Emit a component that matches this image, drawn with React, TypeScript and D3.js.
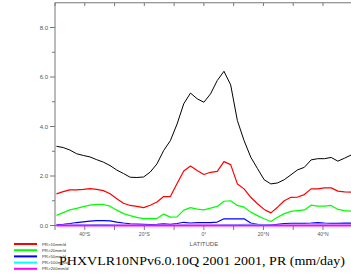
import React from 'react'
import * as d3 from 'd3'

// latitude grid (deg)
const lats = [
  -49.5, -47.25, -45, -42.75, -40.5, -38.25, -36, -33.75, -31.5, -29.25, -27,
  -24.75, -22.5, -20.25, -18, -15.75, -13.5, -11.25, -9, -6.75, -4.5, -2.25, 0,
  2.25, 4.5, 6.75, 9, 11.25, 13.5, 15.75, 18, 20.25, 22.5, 24.75, 27, 29.25,
  31.5, 33.75, 36, 38.25, 40.5, 42.75, 45, 47.25, 49.5
]

// total precip
const prTotal = [
  3.2, 3.15, 3.05, 2.9, 2.83, 2.77, 2.66, 2.56, 2.42, 2.24, 2.1, 1.95, 1.94,
  1.96, 2.16, 2.49, 3.03, 3.43, 4.1, 4.92, 5.35, 5.12, 4.98, 5.32, 5.86, 6.23,
  5.68, 4.24, 3.43, 2.76, 2.3, 1.85, 1.68, 1.72, 1.85, 2.05, 2.25, 2.35, 2.65,
  2.7, 2.7, 2.75, 2.6, 2.72, 2.85
]
const pr10 = [
  1.28, 1.37, 1.44, 1.44, 1.46, 1.49, 1.46, 1.41, 1.28, 1.08, 0.9, 0.81, 0.77,
  0.72, 0.82, 0.95, 1.17, 1.17, 1.7, 2.2, 2.4, 2.22, 2.06, 2.15, 2.19, 2.58,
  2.46, 1.68, 1.48, 1.14, 0.88, 0.65, 0.51, 0.74, 1.0, 1.14, 1.15, 1.25, 1.48,
  1.48, 1.52, 1.52, 1.39, 1.36, 1.35
]
const pr20 = [
  0.41, 0.52, 0.63, 0.69, 0.76, 0.82, 0.85, 0.85, 0.78, 0.62, 0.48, 0.4, 0.33,
  0.28, 0.28, 0.28, 0.46, 0.34, 0.35, 0.62, 0.72, 0.66, 0.63, 0.7, 0.77, 0.98,
  1.0, 0.81, 0.74, 0.54, 0.4, 0.27, 0.16, 0.33, 0.48, 0.57, 0.6, 0.63, 0.82,
  0.78, 0.78, 0.81, 0.65, 0.6, 0.58
]
const pr50 = [
  0.03, 0.05, 0.08, 0.12, 0.15, 0.18, 0.2, 0.2, 0.19, 0.14, 0.1, 0.07, 0.06,
  0.05, 0.04, 0.05, 0.07, 0.05, 0.08, 0.13, 0.1, 0.12, 0.12, 0.12, 0.14, 0.27,
  0.27, 0.27, 0.27, 0.1, 0.05, 0.04, 0.02, 0.05, 0.08, 0.09, 0.09, 0.09, 0.1,
  0.12, 0.1, 0.09, 0.09, 0.1, 0.1
]
const pr100 = [
  0.01, 0.01, 0.02, 0.02, 0.03, 0.03, 0.04, 0.04, 0.03, 0.02, 0.01, 0.01, 0.01,
  0.01, 0.01, 0.01, 0.01, 0.01, 0.01, 0.02, 0.01, 0.01, 0.01, 0.01, 0.02, 0.03,
  0.03, 0.03, 0.05, 0.05, 0.05, 0.04, 0.02, 0.01, 0.01, 0.01, 0.01, 0.01, 0.01,
  0.01, 0.02, 0.01, 0.01, 0.01, 0.01
]
const pr200 = [
  0, 0, 0, 0, 0, 0, 0, 0, 0, 0, 0, 0, 0, 0, 0, 0, 0, 0, 0, 0, 0, 0, 0, 0, 0, 0,
  0, 0, 0, 0, 0, 0, 0, 0, 0, 0, 0, 0, 0, 0, 0, 0, 0, 0, 0
]

const legendLabels = ['PR>10mm/d', 'PR>20mm/d', 'PR>50mm/d', 'PR>100mm/d', 'PR>200mm/d']
const yTicks = [0, 2, 4, 6, 8]
const yMinor = [1, 3, 5, 7]
const xTicks = [-50, -40, -30, -20, -10, 0, 10, 20, 30, 40, 50]
const xLabels = [
  { lat: -40, text: '40°S' },
  { lat: -20, text: '20°S' },
  { lat: 0, text: '0°' },
  { lat: 20, text: '20°N' },
  { lat: 40, text: '40°N' }
]
const title = 'PHXVLR10NPv6.0.10Q 2001 2001, PR (mm/day)'

const App = () => {
  const x = d3.scaleLinear().domain([-50, 50]).range([55, 352.75])
  const y = d3.scaleLinear().domain([0, 9]).range([225.5, 2.75])
  const line = d3
    .line<number>()
    .x((d, i) => x(lats[i]))
    .y((d) => y(d))

  const series = [
    { values: prTotal, color: '#000000', width: 1 },
    { values: pr10, color: '#ff0000', width: 1.2 },
    { values: pr20, color: '#00ff00', width: 1.2 },
    { values: pr50, color: '#0000ff', width: 1.2 },
    { values: pr100, color: '#00ffff', width: 1.2 },
    { values: pr200, color: '#ff00ff', width: 2 }
  ]

  const axisColor = '#777'
  const labelStyle = {
    fontFamily: 'Liberation Sans, Arial, sans-serif',
    fill: '#555'
  }

  return (
    <svg
      width={351}
      height={276}
      style={{ position: 'absolute', left: 0, top: 0, background: '#fff' }}
    >
      {/* frame */}
      <line x1={55} y1={2.75} x2={352} y2={2.75} stroke={axisColor} />
      <line x1={55} y1={2.75} x2={55} y2={225.5} stroke={axisColor} />
      <line x1={55} y1={225.5} x2={352} y2={225.5} stroke={axisColor} />

      {yTicks.map((t) => (
        <g key={t}>
          <line x1={50} x2={55} y1={y(t)} y2={y(t)} stroke={axisColor} />
          <text
            x={48}
            y={y(t) + 2}
            textAnchor="end"
            fontSize={6}
            style={labelStyle}
          >
            {t.toFixed(1)}
          </text>
        </g>
      ))}
      {yMinor.map((t) => (
        <line key={t} x1={52} x2={55} y1={y(t)} y2={y(t)} stroke={axisColor} />
      ))}

      {xTicks.map((t) => (
        <g key={t}>
          <line x1={x(t)} x2={x(t)} y1={225.5} y2={230} stroke={axisColor} />
          <line x1={x(t)} x2={x(t)} y1={2.75} y2={6} stroke={axisColor} />
        </g>
      ))}
      {xLabels.map((l) => (
        <text
          key={l.lat}
          x={x(l.lat)}
          y={236}
          textAnchor="middle"
          fontSize={5}
          style={labelStyle}
        >
          {l.text}
        </text>
      ))}
      <text
        x={x(0)}
        y={246}
        textAnchor="middle"
        fontSize={6}
        style={labelStyle}
      >
        LATITUDE
      </text>

      {series.map((s, i) => (
        <path
          key={i}
          d={line(s.values) || ''}
          fill="none"
          stroke={s.color}
          strokeWidth={s.width}
          strokeLinejoin="round"
        />
      ))}

      {/* legend */}
      {legendLabels.map((lab, i) => (
        <g key={lab} transform={`translate(14,${244 + i * 6.2})`}>
          <line x1={0} x2={23} y1={0} y2={0} stroke={series[i + 1].color} strokeWidth={2} />
          <text
            x={28}
            y={1.5}
            fontSize={4.3}
            style={{ fontFamily: 'Liberation Sans, Arial, sans-serif', fill: '#333' }}
          >
            {lab}
          </text>
        </g>
      ))}

      <text
        x={59}
        y={265}
        fontSize={13}
        textLength={286}
        lengthAdjust="spacingAndGlyphs"
        style={{ fontFamily: 'Liberation Serif, Times New Roman, serif', fill: '#000' }}
      >
        {title}
      </text>
    </svg>
  )
}

export default App
